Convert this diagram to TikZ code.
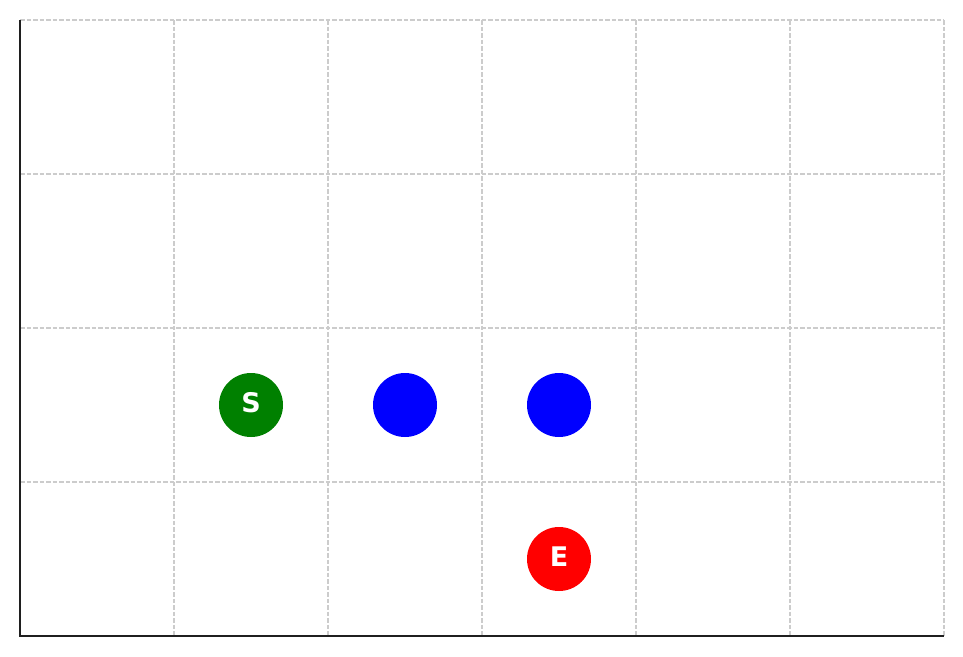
\documentclass[tikz,border=0pt]{standalone}
\usepackage{fontspec}
\setmainfont{DejaVu Sans}
\begin{document}
\begin{tikzpicture}[x=1pt,y=-1pt,
  gridline/.style={draw=black!20, dash pattern=on 4.5pt off 2pt, line width=1.1pt},
  axisline/.style={draw=black!88, line width=2.5pt},
  dot/.style={circle, minimum size=64pt, inner sep=0pt},
  lbl/.style={text=white, font=\fontsize{27}{27}\selectfont\bfseries}]
\useasboundingbox (0,0) rectangle (963,656);
\foreach \x in {174,328,482,636,790,944} \draw[gridline] (\x,20) -- (\x,636);
\foreach \y in {20,174,328,482} \draw[gridline] (20,\y) -- (944,\y);
\coordinate (o) at (20,636);
\coordinate (top) at (20,20);
\coordinate (right) at (944,636);
\draw[axisline] (top) -- (o) -- (right);
\node[dot, fill={rgb,255:red,0;green,128;blue,0}] (s) at (251,405) {};
\node[lbl] (slbl) at (251,403) {S};
\node[dot, fill=blue] (b1) at (405,405) {};
\node[dot, fill=blue] (b2) at (559,405) {};
\node[dot, fill=red] (e) at (559,559) {};
\node[lbl] (elbl) at (559,557) {E};
\end{tikzpicture}
\end{document}
